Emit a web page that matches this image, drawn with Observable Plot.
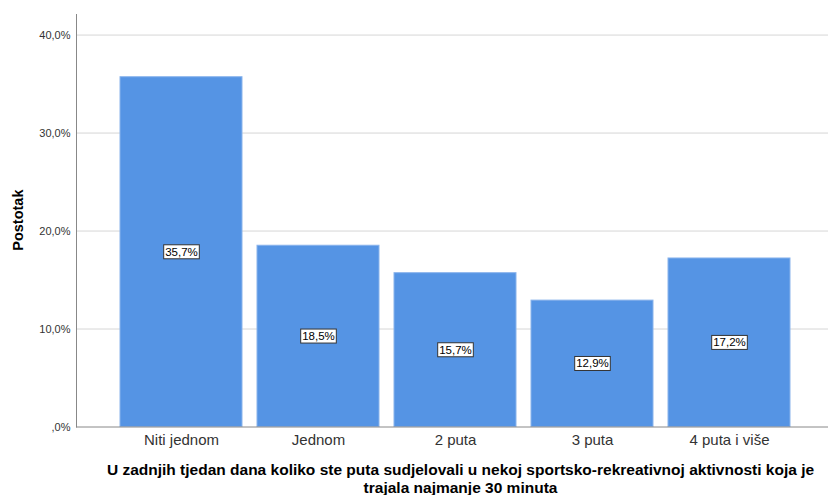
<!DOCTYPE html>
<html><head><meta charset="utf-8">
<script src="https://cdn.jsdelivr.net/npm/d3@7"></script>
<script src="https://cdn.jsdelivr.net/npm/@observablehq/plot@0.6"></script>
<style>body{margin:0;background:#fff;font-family:"Liberation Sans",Arial,sans-serif}</style>
</head><body><div id="chart"></div>
<script>
const categories = ["Niti jednom", "Jednom", "2 puta", "3 puta", "4 puta i više"];
const values = [35.7, 18.5, 15.7, 12.9, 17.2];
const valueLabels = ["35,7%", "18,5%", "15,7%", "12,9%", "17,2%"];
const yTicks = [0, 10, 20, 30, 40];
const yTickLabels = [",0%", "10,0%", "20,0%", "30,0%", "40,0%"];
const yTitle = "Postotak";
const xTitle = "U zadnjih tjedan dana koliko ste puta sudjelovali u nekoj sportsko-rekreativnoj aktivnosti koja je\ntrajala najmanje 30 minuta";

const data = categories.map((c, i) => ({c, v: values[i], label: valueLabels[i]}));
const tickFmt = d => yTickLabels[yTicks.indexOf(d)];

const plot = Plot.plot({
  width: 828, height: 495,
  marginLeft: 76, marginRight: 0, marginTop: 14, marginBottom: 68.5,
  style: {fontFamily: "'Liberation Sans', Arial, sans-serif", background: "#fff", color: "#222"},
  x: {domain: categories, range: [74, 835], paddingInner: 0.11, paddingOuter: 0.33, axis: null},
  y: {domain: [0, 42.1], axis: null},
  marks: [
    Plot.ruleY(yTicks.filter(d => d > 0), {stroke: "#d6d6d6", strokeWidth: 1}),
    Plot.barY(data, {x: "c", y: "v", fill: "#5594e4", stroke: "#8ab4ec", strokeWidth: 1}),
    Plot.ruleY([0], {stroke: "#888", strokeWidth: 1}),
    Plot.frame({anchor: "left", stroke: "#888"}),
    Plot.axisY({ticks: yTicks, tickFormat: tickFmt, tickSize: 0, tickPadding: 6, fontSize: 11, label: null, color: "#333"}),
    Plot.axisX({tickSize: 0, tickPadding: 7, fontSize: 15, label: null, color: "#333"}),
    Plot.text(data, {x: "c", y: d => d.v / 2, text: "label", fontSize: 11.5, fill: "#000"}),
    Plot.text([yTitle], {frameAnchor: "left", dx: -58, dy: 30, rotate: -90, fontWeight: "bold", fontSize: 14.5, fill: "#000"}),
    Plot.text([xTitle], {frameAnchor: "bottom", dx: 8, dy: 36, lineAnchor: "top", lineHeight: 1.12, fontWeight: "bold", fontSize: 15.5, fill: "#000"})
  ]
});
document.getElementById("chart").appendChild(plot);

// white boxes behind value labels
Array.from(plot.querySelectorAll("text"))
  .filter(t => valueLabels.includes(t.textContent))
  .forEach(t => {
    const b = t.getBBox();
    const r = document.createElementNS("http://www.w3.org/2000/svg", "rect");
    r.setAttribute("x", b.x - 1.5);
    r.setAttribute("y", b.y - 1);
    r.setAttribute("width", b.width + 3);
    r.setAttribute("height", b.height + 2);
    r.setAttribute("fill", "#fff");
    r.setAttribute("stroke", "#333");
    r.setAttribute("stroke-width", 1);
    const tr = t.getAttribute("transform");
    if (tr) r.setAttribute("transform", tr);
    t.parentNode.insertBefore(r, t);
  });
</script>
</body></html>
